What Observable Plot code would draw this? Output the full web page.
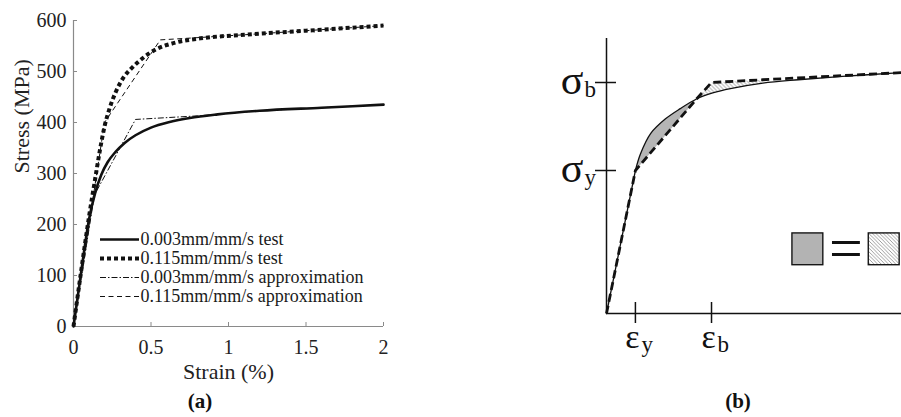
<!DOCTYPE html>
<html>
<head>
<meta charset="utf-8">
<script src="https://cdn.jsdelivr.net/npm/d3@7"></script>
<script src="https://cdn.jsdelivr.net/npm/@observablehq/plot@0.6"></script>
<style>
  html, body { margin: 0; padding: 0; background: #fff; }
  #figure { position: relative; width: 901px; height: 417px; overflow: hidden; background: #fff;
            font-family: "Liberation Serif", "Times New Roman", serif; }
  #figure > div { position: absolute; }
  .caption { font-weight: bold; font-size: 21px; color: #111; width: 60px; text-align: center; line-height: 24px; }
</style>
</head>
<body>
<div id="figure">
  <div id="panelA" style="left:0;top:0"></div>
  <div id="legendA" style="left:100px;top:229px"></div>
  <div id="panelB" style="left:530px;top:0"></div>
  <div id="legendB" style="left:791px;top:232px"></div>
  <div class="caption" style="left:170px;top:389px">(a)</div>
  <div class="caption" style="left:708px;top:389px">(b)</div>
</div>
<script>
// ---------- (a) stress–strain curves: strain in %, stress in MPa ----------
const strainTicks = [0, 0.5, 1, 1.5, 2];
const stressTicks = [0, 100, 200, 300, 400, 500, 600];

const slowTestStrain = [0, 0.05, 0.1, 0.14, 0.18, 0.22, 0.27, 0.33, 0.4, 0.5, 0.62, 0.75, 0.93, 1.2, 1.6, 2.0];
const slowTestStress = [0, 108, 210, 262, 298, 322, 342, 360, 375, 390, 401, 409, 416, 423, 429, 435];

const fastTestStrain = [0, 0.05, 0.1, 0.14, 0.17, 0.2, 0.23, 0.27, 0.32, 0.38, 0.45, 0.53, 0.65, 0.82, 1.1, 1.5, 2.0];
const fastTestStress = [0, 110, 215, 290, 345, 392, 425, 458, 487, 508, 527, 543, 556, 565, 572, 580, 590];

const slowApproxStrain = [0, 0.135, 0.4, 0.8, 1.2, 1.6, 2.0];
const slowApproxStress = [0, 258, 406, 413, 423, 429, 435];

const fastApproxStrain = [0, 0.2, 0.56, 0.78, 1.1, 1.5, 2.0];
const fastApproxStress = [0, 400, 562, 566, 572, 580, 590];

const seriesLabels = [
  "0.003mm/mm/s test",
  "0.115mm/mm/s test",
  "0.003mm/mm/s approximation",
  "0.115mm/mm/s approximation"
];

// ---------- (b) schematic: test curve vs. bilinear approximation (arbitrary units) ----------
const strainMarkNames = ["y", "b"];
const strainMarkValues = [0.98, 3.56];
const stressMarkNames = ["y", "b"];
const stressMarkValues = [5.2, 8.4];

const elasticStrain = [0, 0.98];
const elasticStress = [0, 5.2];
const hardeningStrain = [0.98, 1.15, 1.5, 2.0, 2.5, 3.05, 3.6, 4.2, 5.3, 6.5, 8.0, 10];
const hardeningStress = [5.2, 5.8, 6.55, 7.08, 7.45, 7.8, 8.02, 8.18, 8.38, 8.5, 8.62, 8.76];
const approxStrain = [0, 0.98, 3.05, 3.56, 5.3, 10];
const approxStress = [0, 5.2, 7.8, 8.4, 8.5, 8.76];

// ---------- styles ----------
const ink = "#111";
const axisGrey = "#8a8a8a";
const serif = "'Liberation Serif', 'Times New Roman', serif";
const seriesStyles = [
  {strokeWidth: 2.6},
  {strokeWidth: 4, strokeDasharray: "4,3", strokeLinecap: "butt"},
  {strokeWidth: 1, strokeDasharray: "6,2,1.5,2", strokeLinecap: "butt"},
  {strokeWidth: 1, strokeDasharray: "5,3.5", strokeLinecap: "butt"}
];

const points = (xs, ys) => xs.map((x, i) => ({strain: x, stress: ys[i]}));
const seriesData = [
  points(slowTestStrain, slowTestStress),
  points(fastTestStrain, fastTestStress),
  points(slowApproxStrain, slowApproxStress),
  points(fastApproxStrain, fastApproxStress)
];
const seriesCurves = ["monotone-x", "monotone-x", "linear", "linear"];

// ---------- panel (a) ----------
const panelA = Plot.plot({
  width: 420, height: 392,
  marginLeft: 73, marginRight: 37, marginTop: 20, marginBottom: 66,
  style: {fontFamily: serif, fontSize: "20px", color: "#222", background: "transparent"},
  x: {domain: [0, 2]},
  y: {domain: [0, 600]},
  marks: [
    Plot.ruleX([0], {stroke: axisGrey, strokeWidth: 1.2}),
    Plot.ruleY([0], {stroke: axisGrey, strokeWidth: 1.2}),
    Plot.ruleX(strainTicks, {x: d => d, y1: 0, y2: 0, insetTop: -4, stroke: axisGrey}),
    Plot.ruleY(stressTicks, {y: d => d, x1: 0, x2: 0, insetRight: -4, stroke: axisGrey}),
    Plot.axisX({ticks: strainTicks, tickSize: 0, tickPadding: 13, tickFormat: d => `${d}`, label: null}),
    Plot.axisY({ticks: stressTicks, tickSize: 0, tickPadding: 7, tickFormat: d => `${d}`, label: null}),
    Plot.text(["Stress (MPa)"], {frameAnchor: "left", rotate: -90, dx: -52, fontSize: 22, fill: "#222"}),
    Plot.text(["Strain (%)"], {frameAnchor: "bottom", dy: 52, fontSize: 22, fill: "#222"}),
    ...seriesData.map((data, i) => Plot.line(data, {
      x: "strain", y: "stress", curve: seriesCurves[i], stroke: ink, ...seriesStyles[i]
    }))
  ]
});
document.getElementById("panelA").append(panelA);

// legend of panel (a)
const legendA = Plot.plot({
  width: 300, height: 80, margin: 0,
  style: {fontFamily: serif, background: "transparent"},
  x: {domain: [0, 1], range: [0, 39], axis: null},
  y: {type: "point", domain: seriesLabels, range: [10, 67], padding: 0, axis: null},
  marks: [
    ...seriesLabels.map((label, i) => Plot.ruleY([label], {y: d => d, x1: 0, x2: 1, stroke: ink, ...seriesStyles[i]})),
    Plot.text(seriesLabels, {x: 1, y: d => d, text: d => d, dx: 1, textAnchor: "start", fontSize: 18, fill: "#1a1a1a"})
  ]
});
document.getElementById("legendA").append(legendA);

// ---------- panel (b) ----------
const curve = points(hardeningStrain, hardeningStress);
const approx = points(approxStrain, approxStress);
const meetStrain = approxStrain[2];
const mergeStrain = approxStrain[4];
// area between the curve and the straight post-yield segment (closed back along that segment)
const underCurve = curve.filter(d => d.strain <= meetStrain);
// area between the bilinear segment above the curve and the curve itself
const overApprox = [
  ...approx.slice(2, 5),
  ...curve.filter(d => d.strain >= meetStrain && d.strain <= mergeStrain).reverse()
];

function hatchDefs() {
  const ns = "http://www.w3.org/2000/svg";
  const defs = document.createElementNS(ns, "defs");
  const pattern = document.createElementNS(ns, "pattern");
  pattern.setAttribute("id", "hatch");
  pattern.setAttribute("patternUnits", "userSpaceOnUse");
  pattern.setAttribute("width", "4");
  pattern.setAttribute("height", "4");
  const bg = document.createElementNS(ns, "rect");
  bg.setAttribute("width", "4");
  bg.setAttribute("height", "4");
  bg.setAttribute("fill", "#fff");
  const lines = document.createElementNS(ns, "path");
  lines.setAttribute("d", "M-1,-1L5,5M3,-1L5,1M-1,3L1,5");
  lines.setAttribute("stroke", "#7a7a7a");
  lines.setAttribute("stroke-width", "0.8");
  pattern.append(bg, lines);
  defs.append(pattern);
  return defs;
}

const panelB = Plot.plot({
  width: 371, height: 417,
  marginLeft: 76, marginRight: 0, marginTop: 38, marginBottom: 104,
  style: {fontFamily: serif, color: ink, background: "transparent", overflow: "visible"},
  x: {domain: [0, 10], axis: null},
  y: {domain: [0, 10], axis: null},
  marks: [
    hatchDefs,
    Plot.line(underCurve, {x: "strain", y: "stress", curve: "catmull-rom", fill: "#b5b5b5", stroke: "none"}),
    Plot.line(overApprox, {x: "strain", y: "stress", fill: "url(#hatch)", stroke: "none"}),
    Plot.ruleX([0], {stroke: ink, strokeWidth: 1.5}),
    Plot.ruleY([0], {stroke: ink, strokeWidth: 1.5}),
    Plot.ruleY(stressMarkValues, {y: d => d, x1: 0, x2: 0, insetLeft: -11, insetRight: -10, stroke: ink, strokeWidth: 1.5}),
    Plot.ruleX(strainMarkValues, {x: d => d, y1: 0, y2: 0, insetTop: -11, insetBottom: -10, stroke: ink, strokeWidth: 1.5}),
    Plot.line(points(elasticStrain, elasticStress), {x: "strain", y: "stress", stroke: ink, strokeWidth: 1.3}),
    Plot.line(curve, {x: "strain", y: "stress", curve: "catmull-rom", stroke: ink, strokeWidth: 1.3}),
    Plot.line(approx, {x: "strain", y: "stress", stroke: ink, strokeWidth: 2.8, strokeDasharray: "8,4", strokeLinecap: "butt"}),
    Plot.text(stressMarkValues, {x: 0, y: d => d, text: () => "σ", textAnchor: "end", dx: -23, dy: -2, fontSize: 42, fill: ink}),
    Plot.text(stressMarkValues, {x: 0, y: d => d, text: (d, i) => stressMarkNames[i], textAnchor: "start", dx: -22, dy: 7, fontSize: 23, fill: ink}),
    Plot.text(strainMarkValues, {x: d => d, y: 0, text: () => "ε", dy: 24, dx: -3, fontSize: 34, fill: ink}),
    Plot.text(strainMarkValues, {x: d => d, y: 0, text: (d, i) => strainMarkNames[i], textAnchor: "start", dx: 6, dy: 31, fontSize: 23, fill: ink})
  ]
});
document.getElementById("panelB").append(panelB);

// equal-area key of panel (b)
const legendB = Plot.plot({
  width: 121, height: 37, margin: 0,
  style: {fontFamily: serif, background: "transparent", overflow: "visible"},
  x: {type: "band", domain: ["under", "equal", "over"], range: [0, 121], paddingInner: 0.186, paddingOuter: 0, axis: null},
  y: {type: "band", domain: ["area"], range: [1, 36], padding: 0, axis: null},
  marks: [
    Plot.cell(["under"], {x: d => d, y: () => "area", fill: "#b3b3b3", stroke: ink, strokeWidth: 1.5}),
    Plot.cell(["over"], {x: d => d, y: () => "area", fill: "url(#hatch)", stroke: ink, strokeWidth: 1.5}),
    Plot.text(["equal"], {x: d => d, y: () => "area", text: () => "=", fontSize: 66, fill: ink})
  ]
});
document.getElementById("legendB").append(legendB);
</script>
</body>
</html>
